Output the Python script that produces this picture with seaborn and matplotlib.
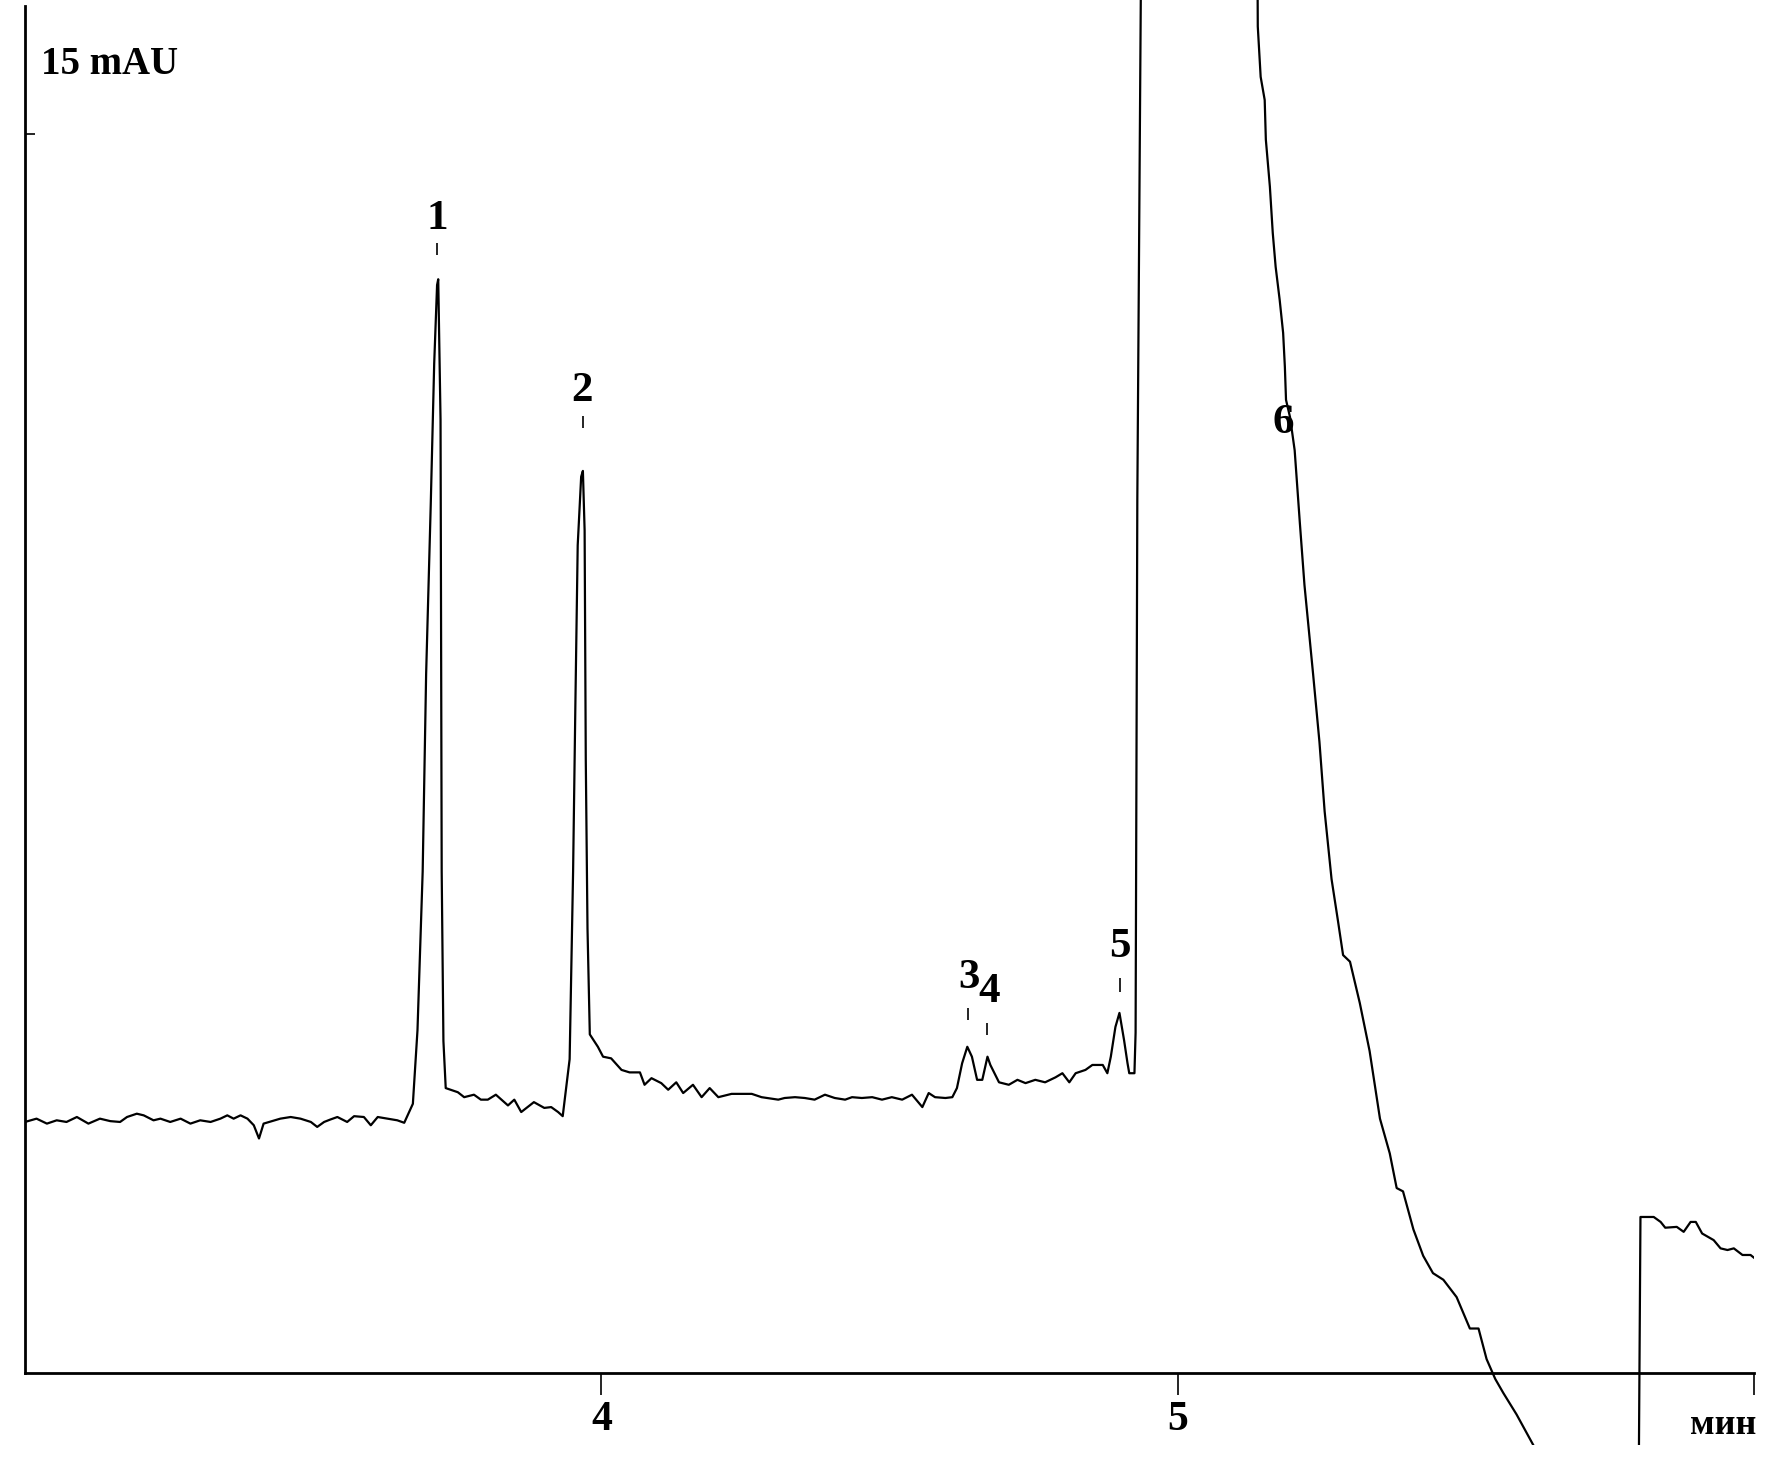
import numpy as np
import pandas as pd
import matplotlib
matplotlib.use('Agg')
import matplotlib.pyplot as plt
import seaborn as sns

# chromatogram trace: time (min) and absorbance (mAU)
time_min = [3.000, 3.020, 3.038, 3.055, 3.072, 3.090, 3.110, 3.130, 3.148, 3.165,
            3.177, 3.194, 3.206, 3.223, 3.235, 3.252, 3.270, 3.287, 3.304, 3.322,
            3.339, 3.351, 3.362, 3.374, 3.386, 3.397, 3.406, 3.414, 3.443, 3.461,
            3.478, 3.496, 3.507, 3.519, 3.530, 3.542, 3.559, 3.571, 3.588, 3.600,
            3.612, 3.629, 3.646, 3.658,
            3.673, 3.681, 3.690, 3.696, 3.704, 3.710, 3.715, 3.717,
            3.721, 3.722, 3.723, 3.726, 3.730,
            3.751, 3.762, 3.779, 3.791, 3.803, 3.817, 3.838, 3.849, 3.861, 3.883,
            3.901, 3.913, 3.925, 3.933,
            3.945, 3.951, 3.955, 3.959, 3.965, 3.968,
            3.971, 3.973, 3.976, 3.980,
            3.994, 4.003, 4.017, 4.035, 4.049, 4.067, 4.075, 4.087, 4.104, 4.116,
            4.130, 4.142, 4.159, 4.174, 4.188, 4.203, 4.226, 4.261, 4.278, 4.307,
            4.318, 4.336, 4.353, 4.370, 4.388, 4.405, 4.423, 4.435, 4.452, 4.470,
            4.487, 4.504, 4.522, 4.539, 4.557, 4.568, 4.579, 4.597, 4.609, 4.617,
            4.626, 4.635, 4.643, 4.652, 4.661, 4.670, 4.675, 4.690, 4.707, 4.722,
            4.736, 4.753, 4.770, 4.788, 4.800, 4.812, 4.823, 4.840, 4.852, 4.870,
            4.878, 4.884, 4.892, 4.899, 4.907, 4.913, 4.916, 4.925,
            4.927, 4.930, 4.936, 4.940, 5.130,
            5.139, 5.144, 5.151, 5.153, 5.160, 5.165, 5.170, 5.177, 5.183, 5.186,
            5.188, 5.195, 5.203, 5.212, 5.220, 5.235, 5.246, 5.255, 5.267, 5.278,
            5.287, 5.299, 5.316, 5.333, 5.351, 5.368, 5.380, 5.391, 5.409, 5.426,
            5.443, 5.461, 5.484, 5.507, 5.522, 5.536, 5.551, 5.565, 5.588, 5.617,
            5.650, 5.800,
            5.803, 5.812, 5.826, 5.838, 5.846, 5.866, 5.878, 5.890, 5.899, 5.910,
            5.930, 5.942, 5.954, 5.965, 5.980, 5.994, 6.003]
signal_mau = [3.04, 3.08, 3.02, 3.06, 3.04, 3.10, 3.02, 3.08, 3.05, 3.04,
              3.10, 3.14, 3.12, 3.06, 3.08, 3.04, 3.08, 3.02, 3.06, 3.04,
              3.08, 3.12, 3.08, 3.12, 3.08, 3.00, 2.84, 3.02, 3.08, 3.10,
              3.08, 3.04, 2.98, 3.04, 3.07, 3.10, 3.04, 3.11, 3.10, 3.00,
              3.10, 3.08, 3.06, 3.03,
              3.26, 4.15, 6.07, 8.46, 10.51, 12.22, 13.17, 13.24,
              11.54, 8.80, 6.07, 4.02, 3.45,
              3.40, 3.34, 3.37, 3.31, 3.31, 3.37, 3.24, 3.31, 3.16, 3.28,
              3.21, 3.22, 3.16, 3.11,
              3.80, 6.07, 8.11, 10.02, 10.85, 10.92,
              10.20, 7.43, 5.38, 4.10,
              3.95, 3.83, 3.81, 3.67, 3.64, 3.64, 3.49, 3.57, 3.51, 3.43,
              3.52, 3.39, 3.49, 3.34, 3.45, 3.34, 3.38, 3.38, 3.34, 3.31,
              3.33, 3.34, 3.33, 3.31, 3.37, 3.33, 3.31, 3.34, 3.33, 3.34,
              3.31, 3.34, 3.31, 3.37, 3.22, 3.39, 3.34, 3.33, 3.34, 3.45,
              3.75, 3.95, 3.83, 3.55, 3.55, 3.83, 3.73, 3.52, 3.49, 3.55,
              3.51, 3.55, 3.52, 3.58, 3.63, 3.52, 3.63, 3.67, 3.73, 3.73,
              3.63, 3.83, 4.19, 4.36, 4.03, 3.75, 3.63, 3.63,
              4.12, 10.57, 16.62, 30.0, 30.0,
              16.30, 15.69, 15.41, 14.93, 14.36, 13.80, 13.39, 12.99, 12.59, 12.18,
              11.78, 11.57, 11.17, 10.29, 9.54, 8.46, 7.64, 6.80, 5.98, 5.48,
              5.06, 4.98, 4.48, 3.90, 3.08, 2.66, 2.24, 2.20, 1.74, 1.42,
              1.21, 1.13, 0.92, 0.54, 0.54, 0.17, -0.07, -0.24, -0.50, -0.87,
              -1.30, -1.30,
              1.89, 1.89, 1.89, 1.83, 1.76, 1.77, 1.71, 1.83, 1.83, 1.69,
              1.61, 1.51, 1.49, 1.51, 1.43, 1.43, 1.38]

# peak numbers and the little marks above the apexes
peak_names = ['1', '2', '3', '4', '5', '6']
label_t = [3.715, 3.967, 4.638, 4.673, 4.899, 5.183]
label_y = [13.97, 11.89, 4.78, 4.61, 5.16, 11.50]
mark_t = [3.715, 3.969, 4.637, 4.670, 4.900]
mark_lo = [13.53, 11.44, 4.27, 4.09, 4.61]
mark_hi = [13.68, 11.59, 4.42, 4.24, 4.78]

x_ticks = [4, 5, 6]
x_tick_labels = ['4', '5', '']

df = pd.DataFrame({'t': time_min, 'mAU': signal_mau})

sns.set_style('white')
plt.rcParams['font.family'] = ['Liberation Serif', 'DejaVu Serif']
plt.rcParams['text.color'] = 'black'
plt.rcParams['xtick.color'] = 'black'
plt.rcParams['ytick.color'] = 'black'

fig = plt.figure(figsize=(17.77, 14.68), dpi=100)
ax = fig.add_axes([25/1777, 23/1468, 1729/1777, 1445/1468])
sns.lineplot(data=df, x='t', y='mAU', sort=False, estimator=None, color='black', linewidth=1.6, ax=ax)
ax.vlines(mark_t, mark_lo, mark_hi, color='black', linewidth=1.2)
for name, tx, ty in zip(peak_names, label_t, label_y):
    ax.text(tx, ty, name, ha='center', va='center', fontsize=31, fontweight='bold', color='black')

ax.set_xlim(3, 6)
ax.set_ylim(-0.87, 16.62)
ax.set_xlabel('')
ax.set_ylabel('')
for s in ['top', 'right']:
    ax.spines[s].set_visible(False)
ax.spines['bottom'].set_position(('data', 0))
ax.spines['left'].set_bounds(0, 16.55)
for s in ['bottom', 'left']:
    ax.spines[s].set_linewidth(2)
    ax.spines[s].set_color('black')
ax.set_xticks(x_ticks)
ax.set_xticklabels(x_tick_labels)
ax.tick_params(axis='x', direction='out', length=16, width=1.2, pad=4, labelsize=30,
               bottom=True, colors='black')
for lab in ax.get_xticklabels():
    lab.set_fontweight('bold')
ax.set_yticks([15])
ax.set_yticklabels([''])
ax.tick_params(axis='y', direction='in', length=7, width=1.2, left=True, colors='black')
ax.text(3.028, 15.84, '15 mAU', ha='left', va='center', fontsize=28, fontweight='bold', color='black')
ax.text(5.946, -0.64, 'мин', ha='center', va='center', fontsize=26, fontweight='bold', color='black')

fig.savefig('out.png', dpi=100)
